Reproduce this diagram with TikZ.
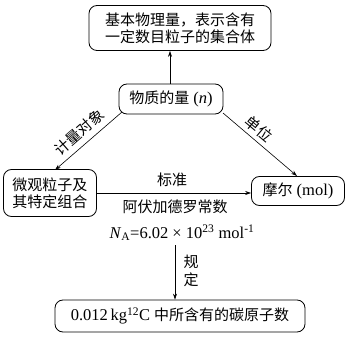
\documentclass[tikz,border=0pt]{standalone}
\usepackage{fontspec}
\setmainfont[Scale=1.1]{Liberation Serif}
\newfontfamily\cjk{Noto Sans CJK SC}
\usetikzlibrary{arrows.meta}
\begin{document}
\begin{tikzpicture}[x=1pt,y=-1pt,
  box/.style={draw,rounded corners=8pt,line width=0.8pt,inner sep=0pt,align=center},
  arr/.style={-{Stealth[length=6pt,width=4pt]},line width=0.6pt},
  lab/.style={inner sep=0pt},
  font=\fontsize{15}{18}\selectfont]
\useasboundingbox (0,0) rectangle (348,339);
\node[box,minimum width=182pt,minimum height=45pt] (top) at (180,28) {{\cjk 基本物理量，表示含有}\\[-1pt]{\cjk 一定数目粒子的集合体}};
\node[box,minimum width=104pt,minimum height=30pt] (mid) at (171,99) {{\cjk 物质的量} (\textit{n})};
\node[box,minimum width=93pt,minimum height=47pt] (left) at (50,193) {{\cjk 微观粒子及}\\[-1pt]{\cjk 其特定组合}};
\node[box,minimum width=93pt,minimum height=29pt] (right) at (298,191) {{\cjk 摩尔} (mol)};
\node[box,minimum width=250pt,minimum height=32pt] (bot) at (180,316) {0.012\,kg\textsuperscript{12}C\hspace{4pt}{\cjk 中所含有的碳原子数}};
\coordinate (ml) at (122,112);
\coordinate (lt) at (55,170);
\coordinate (mr) at (223,113);
\coordinate (rt) at (297,176);
\coordinate (ds) at (175,245);
\draw[arr] (mid.north -| 170,0) -- (top.south -| 170,0);
\draw[arr] (ml) -- (lt);
\draw[arr] (mr) -- (rt);
\draw[arr] (left.east) -- (right.west |- left.east);
\draw[arr] (ds) -- (bot.north -| ds);
\node[lab] (biaozhun) at (172,180) {\cjk 标准};
\node[lab] (afg) at (175,207) {\cjk 阿伏加德罗常数};
\node[lab] (na) at (182,233) {\textit{N}\textsubscript{A}=6.02 × 10\textsuperscript{23} mol\textsuperscript{-1}};
\node[lab,align=center] (guiding) at (191,271) {{\cjk 规}\\[0pt]{\cjk 定}};
\node[lab,rotate=41] (jl) at (79,132) {\cjk 计量对象};
\node[lab,rotate=-40] (dw) at (259,129) {\cjk 单位};
\end{tikzpicture}
\end{document}
